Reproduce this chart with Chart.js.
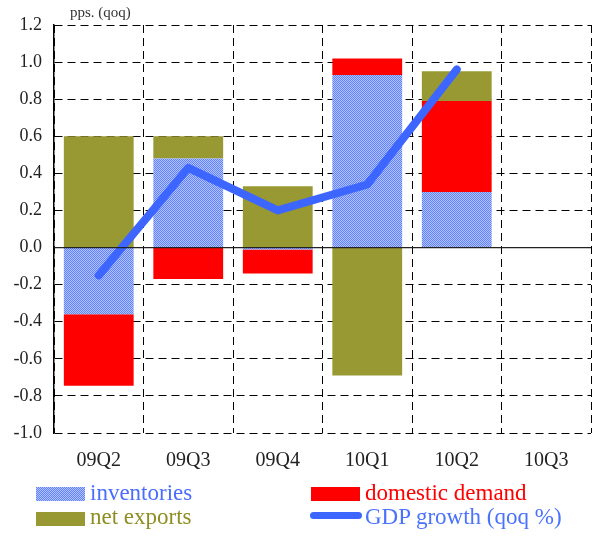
<!DOCTYPE html>
<html><head><meta charset="utf-8">
<script src="https://cdn.jsdelivr.net/npm/chart.js@4"></script>
<style>
html,body{margin:0;padding:0;background:#fff;}
#wrap{position:relative;width:600px;height:536px;}
canvas{position:absolute;left:0;top:0;}
.lg{position:absolute;font-family:"Liberation Serif","DejaVu Serif",serif;font-size:23px;line-height:23px;white-space:nowrap;}
.sw{position:absolute;}
#unit{position:absolute;left:70px;top:4px;font-family:"Liberation Serif",serif;font-size:15px;color:#333;}
</style></head>
<body><div id="wrap">
<canvas id="c" width="600" height="536"></canvas>
<div id="unit">pps. (qoq)</div>
<div class="sw" id="swInv" style="left:36px;top:487px;width:49px;height:14px;"></div>
<div class="lg" style="left:90px;top:481px;color:#4a6dff;">inventories</div>
<div class="sw" style="left:36px;top:512px;width:49px;height:14px;background:#999933;"></div>
<div class="lg" style="left:90px;top:505px;color:#8d8d22;">net exports</div>
<div class="sw" style="left:311px;top:487px;width:49px;height:14px;background:#ff0000;"></div>
<div class="lg" style="left:365px;top:481px;color:#ff0000;">domestic demand</div>
<div class="sw" style="left:310px;top:512px;width:52px;height:7px;border-radius:4px;background:#3c66ff;"></div>
<div class="lg" style="left:365px;top:505px;color:#4a72ff;">GDP growth (qoq %)</div>
</div>
<script>
const categories = ["09Q2","09Q3","09Q4","10Q1","10Q2","10Q3"];
const inventories = [-0.36, 0.48, -0.01, 0.93, 0.30, null];
const domesticDemand = [-0.385, -0.17, -0.13, 0.09, 0.49, null];
const netExports = [0.60, 0.12, 0.33, -0.69, 0.16, null];
const gdpGrowth = [-0.15, 0.43, 0.20, 0.34, 0.96, null];
const yMin = -1.0, yMax = 1.2, yStep = 0.2;

function makePattern(){
  const p = document.createElement('canvas'); p.width = 2; p.height = 2;
  const g = p.getContext('2d');
  g.fillStyle = '#b4c4ff'; g.fillRect(0,0,2,2);
  g.fillStyle = '#5f80ff'; g.fillRect(0,0,1,1); g.fillRect(1,1,1,1);
  return p;
}
const patCanvas = makePattern();
const ctx = document.getElementById('c').getContext('2d');
const pattern = ctx.createPattern(patCanvas, 'repeat');
const sw = document.getElementById('swInv');
sw.style.backgroundImage = 'url(' + patCanvas.toDataURL() + ')';
sw.style.imageRendering = 'pixelated';

const zeroLine = {
  id: 'zeroLine',
  afterDatasetsDraw(chart){
    const y = chart.scales.y.getPixelForValue(0);
    const a = chart.chartArea;
    const c = chart.ctx;
    c.save(); c.strokeStyle = '#222'; c.lineWidth = 1.2;
    c.beginPath(); c.moveTo(a.left, y); c.lineTo(a.right, y); c.stroke();
    c.restore();
  }
};

new Chart(ctx, {
  type: 'bar',
  data: {
    labels: categories,
    datasets: [
      {type:'line', label:'GDP growth (qoq %)', data: gdpGrowth, borderColor:'#3c66ff', borderWidth:8,
       pointRadius:0, borderCapStyle:'round', borderJoinStyle:'round', fill:false, order:0, tension:0},
      {label:'inventories', data: inventories, backgroundColor: pattern, order:1},
      {label:'domestic demand', data: domesticDemand, backgroundColor:'#ff0000', order:1},
      {label:'net exports', data: netExports, backgroundColor:'#999933', order:1}
    ]
  },
  options: {
    responsive:false, animation:false,
    datasets:{bar:{barPercentage:0.78, categoryPercentage:1}},
    layout:{padding:{left:0,right:9,top:25,bottom:0}},
    plugins:{legend:{display:false}, tooltip:{enabled:false}},
    scales:{
      x:{stacked:true,
        grid:{color:'#000', lineWidth:1, drawTicks:false, offset:true},
        border:{display:false, dash:[8,5]},
        ticks:{color:'#222', font:{family:'"Liberation Serif", serif', size:20}, padding:16},
        afterFit(s){ s.height = 103; }
      },
      y:{stacked:true, min:yMin, max:yMax,
        grid:{color:'#000', lineWidth:1, drawTicks:false},
        border:{display:true, color:'#000', width:1.5, dash:[8,5]},
        ticks:{stepSize:yStep, color:'#222', font:{family:'"Liberation Serif", serif', size:18}, padding:12,
          callback:(v)=> (Math.round(v*10)/10).toFixed(1)},
        afterFit(s){ s.width = 54; }
      }
    }
  },
  plugins:[zeroLine]
});
</script>
</body></html>
